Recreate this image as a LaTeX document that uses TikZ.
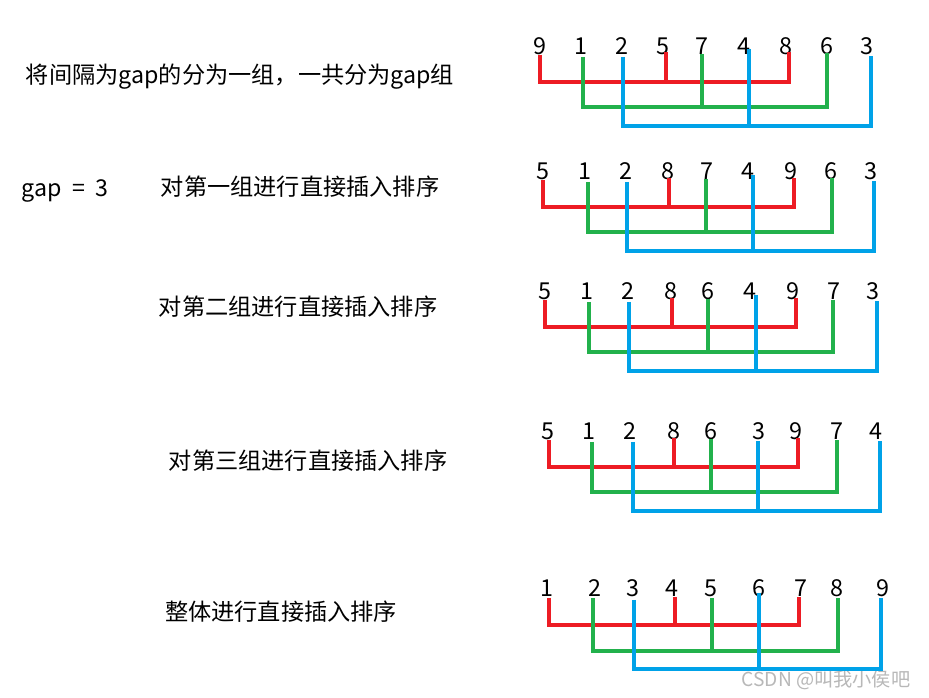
\documentclass[tikz,border=0pt]{standalone}
\usepackage{fontspec}
\setmainfont{Noto Sans CJK SC}
\definecolor{pred}{HTML}{ED1C24}
\definecolor{pgreen}{HTML}{22B14C}
\definecolor{pblue}{HTML}{00A2E8}
\definecolor{wm}{HTML}{B8B8B8}
\newcommand{\grp}[8]{%
  \draw[#1] (#2,#5) -- (#2,#8) -- (#4,#8) -- (#4,#7);
  \draw[#1] (#3,#6) -- (#3,#8);}
\begin{document}
\begin{tikzpicture}[x=0.75pt,y=-0.75pt,
  dig/.style={font=\fontsize{17.5pt}{19pt}\selectfont, inner sep=0pt},
  lbl/.style={font=\fontsize{17.4pt}{19pt}\selectfont, inner sep=0pt},
  bar/.style={line width=2.4pt, line join=miter}]
\useasboundingbox (0,0) rectangle (929,698);
\fill[white] (0,0) rectangle (929,698);
% labels
\node[lbl] (t0) at (240,77) {将间隔为gap的分为一组，一共分为gap组};
\node[lbl] (g) at (65,191) {gap\hspace{0.45em}=\hspace{0.45em}3};
\node[lbl] (t1) at (300,187) {对第一组进行直接插入排序};
\node[lbl] (t2) at (298,307) {对第二组进行直接插入排序};
\node[lbl] (t3) at (308,461) {对第三组进行直接插入排序};
\node[lbl] (t4) at (281,612) {整体进行直接插入排序};
\node[font=\fontsize{14.4pt}{16pt}\selectfont, text=wm, inner sep=0pt] (wmk) at (826,680) {CSDN @叫我小侯吧};
% row 1
\foreach \d/\x [count=\i] in {9/540,1/581,2/622,5/663,7/702,4/744,8/786,6/827,3/867}
  \node[dig] (r1n\i) at (\x,46) {\d};
\grp{bar,pred}{540}{666}{789}{55}{52}{52}{82}
\grp{bar,pgreen}{583}{702}{827}{57}{54}{53}{107}
\grp{bar,pblue}{623}{749}{871}{57}{49}{56}{126}
% row 2
\foreach \d/\x [count=\i] in {5/543,1/585,2/626,8/668,7/707,4/748,9/791,6/831,3/871}
  \node[dig] (r2n\i) at (\x,171) {\d};
\grp{bar,pred}{543}{669}{794}{180}{178}{178}{207}
\grp{bar,pgreen}{588}{706}{832}{182}{179}{178}{232}
\grp{bar,pblue}{627}{753}{874}{182}{175}{181}{251}
% row 3
\foreach \d/\x [count=\i] in {5/545,1/587,2/628,8/671,6/708,4/750,9/793,7/834,3/873}
  \node[dig] (r3n\i) at (\x,291) {\d};
\grp{bar,pred}{545}{672}{796}{300}{298}{298}{327}
\grp{bar,pgreen}{589}{708}{833}{302}{299}{300}{352}
\grp{bar,pblue}{629}{756}{877}{302}{295}{301}{371}
% row 4
\foreach \d/\x [count=\i] in {5/548,1/589,2/630,8/674,6/711,3/759,9/796,7/837,4/876}
  \node[dig] (r4n\i) at (\x,431) {\d};
\grp{bar,pred}{549}{674}{798}{440}{438}{438}{467}
\grp{bar,pgreen}{592}{711}{837}{442}{439}{440}{492}
\grp{bar,pblue}{633}{758}{880}{442}{441}{441}{511}
% row 5
\foreach \d/\x [count=\i] in {1/547,2/595,3/633,4/672,5/711,6/759,7/801,8/837,9/883}
  \node[dig] (r5n\i) at (\x,588) {\d};
\grp{bar,pred}{549}{675}{799}{598}{597}{597}{625}
\grp{bar,pgreen}{593}{712}{838}{598}{598}{598}{651}
\grp{bar,pblue}{634}{759}{881}{600}{593}{598}{669}
\end{tikzpicture}
\end{document}
